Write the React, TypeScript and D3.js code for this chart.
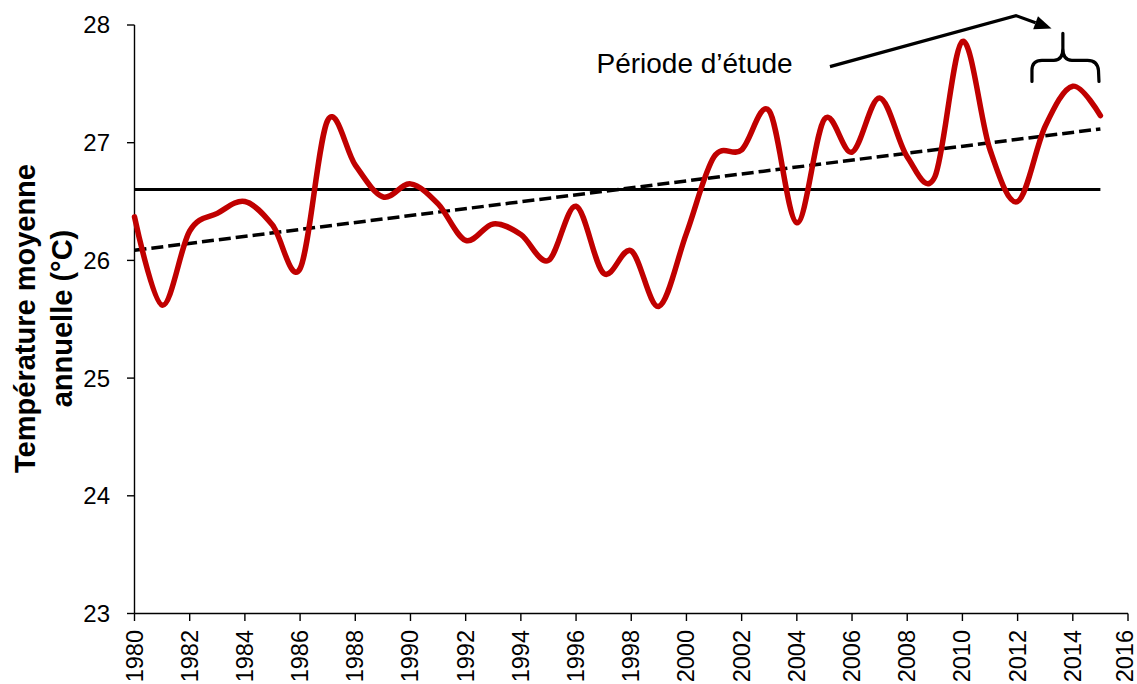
import * as d3 from 'd3'

const years = [
  1980, 1981, 1982, 1983, 1984, 1985, 1986, 1987, 1988, 1989, 1990, 1991,
  1992, 1993, 1994, 1995, 1996, 1997, 1998, 1999, 2000, 2001, 2002, 2003,
  2004, 2005, 2006, 2007, 2008, 2009, 2010, 2011, 2012, 2013, 2014, 2015,
]
const temperatures = [
  26.37, 25.62, 26.25, 26.4, 26.5, 26.3, 25.93, 27.19, 26.81, 26.54, 26.65, 26.48,
  26.17, 26.31, 26.22, 26.0, 26.46, 25.89, 26.08, 25.61, 26.23, 26.88, 26.94, 27.27,
  26.32, 27.2, 26.92, 27.38, 26.88, 26.71, 27.86, 26.94, 26.5, 27.14, 27.48, 27.23,
]
const yTicks = [23, 24, 25, 26, 27, 28]
const xTicks = [
  1980, 1982, 1984, 1986, 1988, 1990, 1992, 1994, 1996, 1998,
  2000, 2002, 2004, 2006, 2008, 2010, 2012, 2014, 2016,
]
const annotationLabel = 'Période d’étude'
const yTitle = ['Température moyenne', 'annuelle (°C)']

const font = 'Liberation Sans, Arial, sans-serif'

export default function App() {
  const width = 1137
  const height = 684
  const x = d3.scaleLinear([1980, 2016], [134.5, 1128])
  const y = d3.scaleLinear([23, 28], [613.5, 25])

  const points: [number, number][] = years.map((yr, i) => [yr, temperatures[i]])
  const line = d3
    .line<[number, number]>()
    .x((d) => x(d[0]))
    .y((d) => y(d[1]))
    .curve(d3.curveCardinal.tension(0))

  // moyenne et tendance linéaire (moindres carrés)
  const mean = d3.mean(temperatures) as number
  const meanYear = d3.mean(years) as number
  const slope =
    d3.sum(years, (yr, i) => (yr - meanYear) * (temperatures[i] - mean)) /
    d3.sum(years, (yr) => (yr - meanYear) ** 2)
  const trend = (yr: number) => mean + slope * (yr - meanYear)
  const first = years[0]
  const last = years[years.length - 1]

  // flèche vers la période d'étude
  const a0: [number, number] = [x(2005.2), y(27.646)]
  const a1: [number, number] = [x(2011.94), y(28.08)]
  const tip: [number, number] = [x(2013.23), y(27.97)]
  const dx = tip[0] - a1[0]
  const dy = tip[1] - a1[1]
  const len = Math.hypot(dx, dy)
  const ux = dx / len
  const uy = dy / len
  const bx = tip[0] - 17 * ux
  const by = tip[1] - 17 * uy
  const head = [
    tip,
    [bx - 7 * uy, by + 7 * ux],
    [bx + 7 * uy, by - 7 * ux],
  ]

  // accolade
  const bl = x(2012.52)
  const bm = x(2013.64)
  const br = x(2014.93)
  const bBottom = y(27.52)
  const bBar = y(27.7)
  const bTop = y(27.93)
  const brace = [
    `M${bl},${bBottom} L${bl},${bBar + 10}`,
    `Q${bl},${bBar} ${bl + 10},${bBar} L${bm - 9},${bBar}`,
    `Q${bm},${bBar} ${bm},${bBar - 12} L${bm},${bTop}`,
    `M${bm},${bBar - 12} Q${bm},${bBar} ${bm + 9},${bBar} L${br - 11},${bBar}`,
    `Q${br - 1},${bBar} ${br},${bBar + 10} L${br + 0.5},${bBottom}`,
  ].join(' ')

  return (
    <svg
      width={width}
      height={height}
      style={{ position: 'absolute', left: 0, top: 0, background: '#fff' }}
      fontFamily={font}
    >
      {/* axe Y */}
      <line x1={x(1980)} x2={x(1980)} y1={y(28)} y2={y(23)} stroke="#000" strokeWidth={1.4} />
      {yTicks.map((t) => (
        <g key={t}>
          <line x1={x(1980) - 7.5} x2={x(1980)} y1={y(t)} y2={y(t)} stroke="#000" strokeWidth={1.4} />
          <text x={110} y={y(t)} dy="0.35em" textAnchor="end" fontSize={24}>
            {t}
          </text>
        </g>
      ))}

      {/* axe X */}
      <line x1={x(1980)} x2={x(2016)} y1={y(23)} y2={y(23)} stroke="#000" strokeWidth={1.4} />
      {xTicks.map((t) => (
        <g key={t}>
          <line x1={x(t)} x2={x(t)} y1={y(23)} y2={y(23) + 7.5} stroke="#000" strokeWidth={1.4} />
          <text
            transform={`translate(${Math.min(x(t), width - 12)},630) rotate(-90)`}
            dy="0.34em"
            textAnchor="end"
            fontSize={23.5}
          >
            {t}
          </text>
        </g>
      ))}

      {/* titre Y */}
      <g transform="translate(0,318.5) rotate(-90)" fontWeight="bold" fontSize={29} textAnchor="middle">
        <text x={0} y={34.5}>{yTitle[0]}</text>
        <text x={0} y={71.5}>{yTitle[1]}</text>
      </g>

      {/* moyenne */}
      <line x1={x(first)} x2={x(last)} y1={y(mean)} y2={y(mean)} stroke="#000" strokeWidth={3} />

      {/* tendance */}
      <line
        x1={x(first)}
        x2={x(last)}
        y1={y(trend(first))}
        y2={y(trend(last))}
        stroke="#000"
        strokeWidth={3.5}
        strokeDasharray="12,5"
      />

      {/* série */}
      <path d={line(points) || undefined} fill="none" stroke="#C00000" strokeWidth={5.5} strokeLinejoin="round" strokeLinecap="round" />

      {/* annotation */}
      <text x={x(1996.74)} y={y(27.595)} fontSize={28}>
        {annotationLabel}
      </text>
      <polyline
        points={[a0, a1, [bx, by]].map((p) => p.join(',')).join(' ')}
        fill="none"
        stroke="#000"
        strokeWidth={3.2}
      />
      <polygon points={head.map((p) => p.join(',')).join(' ')} fill="#000" />
      <path d={brace} fill="none" stroke="#000" strokeWidth={3.2} strokeLinecap="round" />
    </svg>
  )
}
